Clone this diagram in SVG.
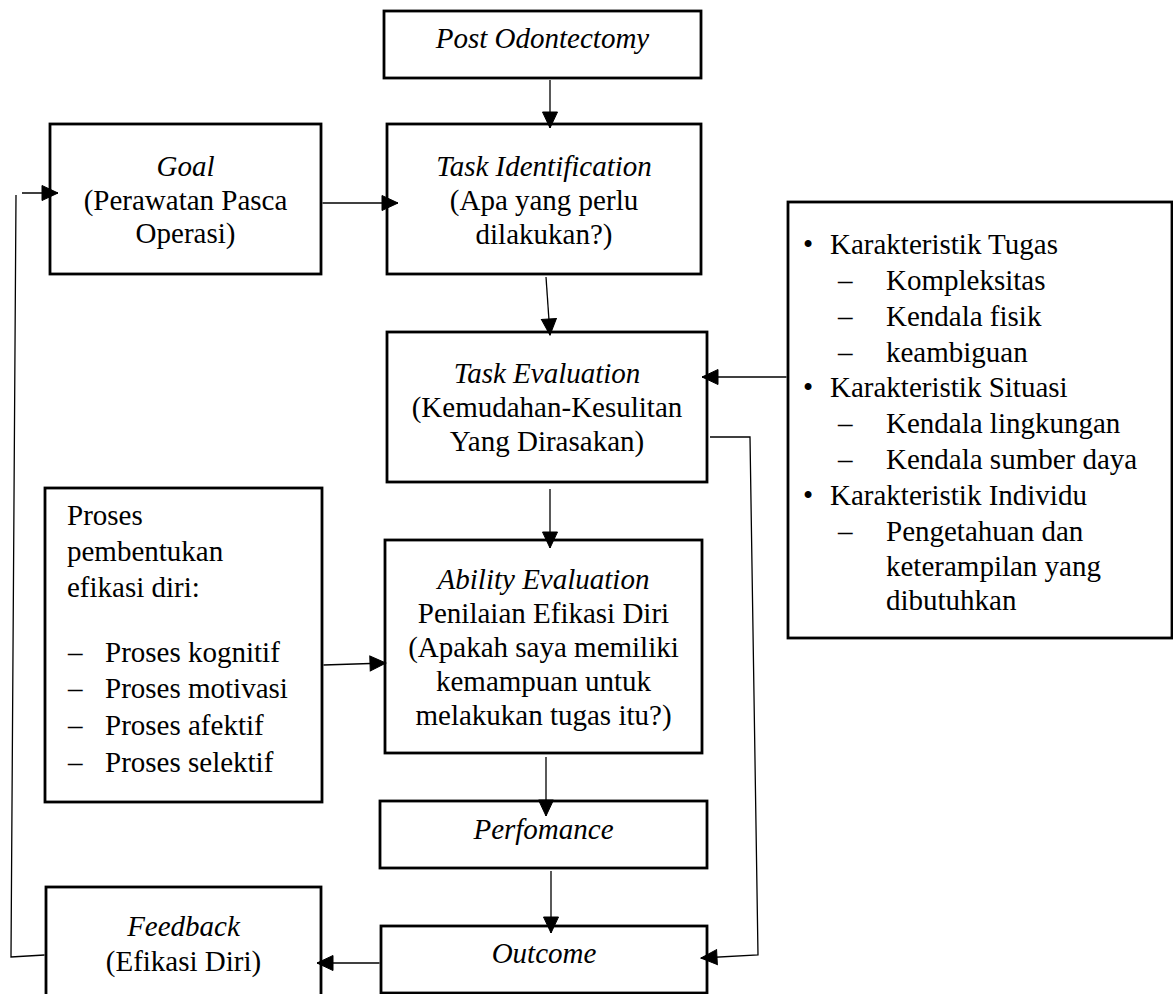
<svg xmlns="http://www.w3.org/2000/svg" width="1173" height="994" viewBox="0 0 1173 994">
<defs>
<marker id="ah" markerUnits="userSpaceOnUse" viewBox="-1 -1 18 17" markerWidth="18" markerHeight="17" refX="16" refY="7.5" orient="auto">
<path d="M0,0 L16,7.5 L0,15 z" fill="#000" stroke="#000" stroke-width="1"/>
</marker>
<style>
.box{fill:#fff;stroke:#000;stroke-width:2.8}
.t{font-family:'Liberation Serif',Tinos,'Times New Roman','DejaVu Serif','Noto Serif',serif;font-size:29px;fill:#000}
.c{text-anchor:middle}
.i{font-style:italic}
.ln{fill:none;stroke:#000;stroke-width:1.3}
.ar{fill:none;stroke:#000;stroke-width:1.3;marker-end:url(#ah)}
</style>
</defs>
<rect width="1173" height="994" fill="#fff"/>
<g id="post-odontectomy">
<rect class="box" x="384" y="11" width="317" height="67"/>
<text class="t c i" x="542.5" y="48">Post Odontectomy</text>
</g>
<g id="goal">
<rect class="box" x="50" y="124" width="271" height="150"/>
<text class="t c i" x="185.5" y="176">Goal</text>
<text class="t c" x="185.5" y="210">(Perawatan Pasca</text>
<text class="t c" x="185.5" y="243">Operasi)</text>
</g>
<g id="task-identification">
<rect class="box" x="387" y="124" width="314" height="150"/>
<text class="t c i" x="544" y="176">Task Identification</text>
<text class="t c" x="544" y="210">(Apa yang perlu</text>
<text class="t c" x="544" y="244">dilakukan?)</text>
</g>
<g id="karakteristik">
<rect class="box" x="788" y="202" width="384" height="436"/>
<text class="t" x="803" y="254">•</text>
<text class="t" x="830" y="254">Karakteristik Tugas</text>
<text class="t" x="838" y="290">–</text>
<text class="t" x="886" y="290">Kompleksitas</text>
<text class="t" x="838" y="326">–</text>
<text class="t" x="886" y="326">Kendala fisik</text>
<text class="t" x="838" y="362">–</text>
<text class="t" x="886" y="362">keambiguan</text>
<text class="t" x="803" y="397">•</text>
<text class="t" x="830" y="397">Karakteristik Situasi</text>
<text class="t" x="838" y="433">–</text>
<text class="t" x="886" y="433">Kendala lingkungan</text>
<text class="t" x="838" y="469">–</text>
<text class="t" x="886" y="469">Kendala sumber daya</text>
<text class="t" x="803" y="505">•</text>
<text class="t" x="830" y="505">Karakteristik Individu</text>
<text class="t" x="838" y="541">–</text>
<text class="t" x="886" y="541">Pengetahuan dan</text>
<text class="t" x="886" y="576">keterampilan yang</text>
<text class="t" x="886" y="610">dibutuhkan</text>
</g>
<g id="task-evaluation">
<rect class="box" x="387" y="332" width="320" height="150"/>
<text class="t c i" x="547" y="383">Task Evaluation</text>
<text class="t c" x="547" y="417">(Kemudahan-Kesulitan</text>
<text class="t c" x="547" y="451">Yang Dirasakan)</text>
</g>
<g id="proses">
<rect class="box" x="45" y="488" width="277" height="314"/>
<text class="t" x="67" y="525">Proses</text>
<text class="t" x="67" y="561">pembentukan</text>
<text class="t" x="67" y="597">efikasi diri:</text>
<text class="t" x="68" y="662">–</text>
<text class="t" x="105" y="662">Proses kognitif</text>
<text class="t" x="68" y="698">–</text>
<text class="t" x="105" y="698">Proses motivasi</text>
<text class="t" x="68" y="735">–</text>
<text class="t" x="105" y="735">Proses afektif</text>
<text class="t" x="68" y="772">–</text>
<text class="t" x="105" y="772">Proses selektif</text>
</g>
<g id="ability-evaluation">
<rect class="box" x="385" y="540" width="317" height="213"/>
<text class="t c i" x="543.5" y="589">Ability Evaluation</text>
<text class="t c" x="543.5" y="623">Penilaian Efikasi Diri</text>
<text class="t c" x="543.5" y="657">(Apakah saya memiliki</text>
<text class="t c" x="543.5" y="691">kemampuan untuk</text>
<text class="t c" x="543.5" y="725">melakukan tugas itu?)</text>
</g>
<g id="performance">
<rect class="box" x="380" y="801" width="327" height="67"/>
<text class="t c i" x="543.5" y="839">Perfomance</text>
</g>
<g id="outcome">
<rect class="box" x="381" y="926" width="326" height="67"/>
<text class="t c i" x="544" y="963">Outcome</text>
</g>
<g id="feedback">
<rect class="box" x="46" y="887" width="275" height="120"/>
<text class="t c i" x="183.5" y="936">Feedback</text>
<text class="t c" x="183.5" y="971">(Efikasi Diri)</text>
</g>
<g id="connectors">
<path class="ar" d="M550,80 L550,128"/>
<path class="ar" d="M322.5,203 L398,203"/>
<path class="ar" d="M546,277 L550,335"/>
<path class="ar" d="M786.5,377 L702,377"/>
<path class="ar" d="M550,489 L550,548"/>
<path class="ar" d="M323.5,665 L386,663"/>
<path class="ar" d="M546,757 L546,816"/>
<path class="ar" d="M551,871 L551,933"/>
<path class="ar" d="M379.5,963 L317,963"/>
<path class="ar" d="M710,437 L750,437 L758,955 L701,958"/>
<path class="ln" d="M44.5,955 L11,957 L16,195"/>
<path class="ar" d="M22,193 L58,193"/>
</g>
</svg>
